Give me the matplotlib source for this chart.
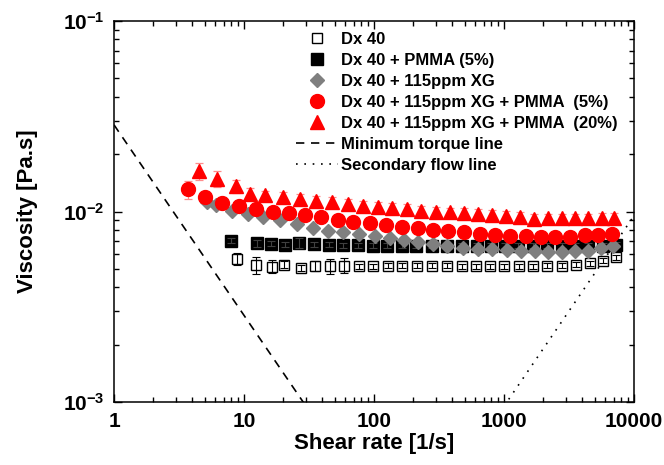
import matplotlib
matplotlib.use("Agg")
import matplotlib.pyplot as plt
from matplotlib.ticker import FixedLocator, FixedFormatter, LogLocator, NullFormatter

plt.rcParams.update(
    {
        "font.family": ["Liberation Sans", "DejaVu Sans"],
        "font.weight": "bold",
        "mathtext.fontset": "custom",
        "mathtext.rm": "Liberation Sans:bold",
        "mathtext.bf": "Liberation Sans:bold",
        "axes.linewidth": 1.1,
    }
)

# Dx 40
dx_rate = [8.88, 12.4, 16.3, 20.4, 27.6, 35.2, 45.9, 59.1, 77.1, 98.8, 127.4, 163.3, 213, 278,
           362, 473, 609, 780, 1005, 1312, 1680, 2152, 2778, 3581, 4589, 5803, 7271]
dx_visc = [0.00564, 0.00524, 0.00514, 0.00526, 0.00506, 0.00520, 0.00515, 0.00520, 0.00515,
           0.00515, 0.00520, 0.00520, 0.00520, 0.00520, 0.00520, 0.00515, 0.00515, 0.00515,
           0.00515, 0.00515, 0.00515, 0.00520, 0.00520, 0.00526, 0.00535, 0.00552, 0.00574]
dx_err = [0.07, 0.10, 0.08, 0.04, 0.04, 0.06, 0.09, 0.09, 0.03, 0.03, 0.03, 0.03, 0.03, 0.03,
          0.03, 0.03, 0.03, 0.03, 0.03, 0.03, 0.03, 0.03, 0.03, 0.03, 0.03, 0.03, 0.03]

# Dx 40 + PMMA (5%)
pmma_rate = [7.9, 12.5, 16.0, 20.6, 26.6, 34.8, 45.1, 58.0, 75.7, 98.8, 126.5, 163.3, 210, 278,
             362, 473, 617, 790, 1018, 1289, 1680, 2152, 2778, 3516, 4449, 5747, 7271]
pmma_visc = [0.00703, 0.00681, 0.00676, 0.00670, 0.00681, 0.00674, 0.00670, 0.00667, 0.00667,
             0.00662, 0.00662, 0.00662, 0.00662, 0.00662, 0.00662, 0.00662, 0.00662, 0.00662,
             0.00662, 0.00662, 0.00662, 0.00662, 0.00662, 0.00662, 0.00662, 0.00662, 0.00670]
pmma_err = [0.03, 0.04, 0.03, 0.03, 0.06, 0.03, 0.03, 0.03, 0.03, 0.03, 0.03, 0.03, 0.03, 0.03,
            0.03, 0.03, 0.03, 0.03, 0.03, 0.03, 0.03, 0.03, 0.03, 0.03, 0.03, 0.03, 0.03]

# Dx 40 + 115ppm XG
xg_rate = [5.19, 6.09, 8.04, 10.8, 14.1, 18.9, 25.4, 33.7, 44.5, 58.0, 77.1, 101.8, 132.8, 171,
           219, 283, 362, 480, 634, 804, 1049, 1343, 1730, 2193, 2778, 3516, 4449, 5543, 6858]
xg_visc = [0.01128, 0.01088, 0.01012, 0.00972, 0.00933, 0.00897, 0.00855, 0.00820, 0.00794,
           0.00778, 0.00763, 0.00748, 0.00727, 0.00710, 0.00690, 0.00676, 0.00662, 0.00646,
           0.00636, 0.00636, 0.00629, 0.00618, 0.00618, 0.00611, 0.00611, 0.00618, 0.00623,
           0.00644, 0.00662]

# Dx 40 + 115ppm XG + PMMA (5%)
xg5_rate = [3.71, 5.01, 6.77, 9.16, 12.4, 16.7, 22.2, 29.5, 39.1, 52.6, 69.4, 93.2, 123.7, 163.4,
            216.8, 286, 373, 492, 653, 853, 1112, 1477, 1916, 2467, 3219, 4201, 5312, 6735]
xg5_visc = [0.01305, 0.01189, 0.01111, 0.01067, 0.01025, 0.01000, 0.00985, 0.00953, 0.00941,
            0.00904, 0.00886, 0.00868, 0.00851, 0.00833, 0.00817, 0.00804, 0.00794, 0.00778,
            0.00763, 0.00754, 0.00748, 0.00741, 0.00738, 0.00738, 0.00738, 0.00757, 0.00757,
            0.00763]
xg5_err = [0.11, 0.05, 0.07, 0.04, 0.04, 0.04, 0.03, 0.03, 0.03, 0.03, 0.03, 0.03, 0.03, 0.03,
           0.03, 0.03, 0.03, 0.03, 0.03, 0.03, 0.03, 0.03, 0.03, 0.03, 0.03, 0.03, 0.03, 0.03]

# Dx 40 + 115ppm XG + PMMA (20%)
xg20_rate = [4.5, 6.2, 8.7, 11.1, 14.5, 20, 27, 35.8, 47.3, 62.8, 82.8, 106.7, 136.8, 178, 230,
             300, 385, 492, 631, 809, 1035, 1327, 1702, 2178, 2793, 3516, 4426, 5675, 7015]
xg20_visc = [0.01625, 0.01490, 0.01360, 0.01240, 0.01215, 0.01190, 0.01166, 0.01142, 0.01119,
             0.01097, 0.01075, 0.01062, 0.01045, 0.01032, 0.01011, 0.00999, 0.00990, 0.00981,
             0.00972, 0.00963, 0.00952, 0.00940, 0.00913, 0.00920, 0.00920, 0.00920, 0.00920,
             0.00922, 0.00922]
xg20_err = [0.10, 0.10, 0.08, 0.07, 0.06, 0.06, 0.06, 0.06, 0.06, 0.06, 0.06, 0.06, 0.06, 0.06,
            0.06, 0.06, 0.06, 0.06, 0.06, 0.06, 0.06, 0.06, 0.06, 0.06, 0.06, 0.06, 0.06, 0.06,
            0.06]

# limit lines
torque_rate = [1, 30]
torque_visc = [0.0285, 0.00095]
secflow_rate = [1000, 10000]
secflow_visc = [0.00095, 0.0095]

y_ticks = [1e-3, 1e-2, 1e-1]
y_ticklabels = [r"$\mathbf{10^{-3}}$", r"$\mathbf{10^{-2}}$", r"$\mathbf{10^{-1}}$"]
x_ticks = [1, 10, 100, 1000, 10000]
x_ticklabels = ["1", "10", "100", "1000", "10000"]


def rel_err(vals, frac):
    return [v * f for v, f in zip(vals, frac)]


fig = plt.figure(figsize=(6.64, 4.65), dpi=100)
ax = fig.add_axes([0.1717, 0.1355, 0.7831, 0.8193])
ax.set_xscale("log")
ax.set_yscale("log")

ax.plot(dx_rate, dx_visc, "s", ms=7.5, mfc="white", mec="black", mew=1.0,
        label="Dx 40", zorder=3)
ax.errorbar(dx_rate, dx_visc, yerr=rel_err(dx_visc, dx_err), fmt="none", ecolor="black",
            elinewidth=0.8, capsize=2.8, capthick=0.8, zorder=3.1)

ax.plot(pmma_rate, pmma_visc, "s", ms=8, mfc="black", mec="black",
        label="Dx 40 + PMMA (5%)", zorder=4)
ax.errorbar(pmma_rate, pmma_visc, yerr=rel_err(pmma_visc, pmma_err), fmt="none",
            ecolor="#404040", elinewidth=0.8, capsize=2.8, capthick=0.8, zorder=4.1)

ax.plot(xg_rate, xg_visc, "D", ms=7.5, mfc="#7f7f7f", mec="#7f7f7f",
        label="Dx 40 + 115ppm XG", zorder=5)

ax.plot(xg5_rate, xg5_visc, "o", ms=10, mfc="red", mec="red",
        label="Dx 40 + 115ppm XG + PMMA  (5%)", zorder=6)
ax.errorbar(xg5_rate, xg5_visc, yerr=rel_err(xg5_visc, xg5_err), fmt="none",
            ecolor="#ff8c8c", elinewidth=0.9, capsize=3, capthick=0.9, zorder=5.9)

ax.errorbar(xg20_rate, xg20_visc, yerr=rel_err(xg20_visc, xg20_err), fmt="none",
            ecolor="#ff8c8c", elinewidth=0.9, capsize=3, capthick=0.9, zorder=6.9)
ax.plot(xg20_rate, xg20_visc, "^", ms=10.5, mfc="red", mec="red",
        label="Dx 40 + 115ppm XG + PMMA  (20%)", zorder=7)

ax.plot(torque_rate, torque_visc, color="black", lw=1.2, dashes=(5, 4),
        label="Minimum torque line", zorder=2)
ax.plot(secflow_rate, secflow_visc, color="black", lw=1.2, dashes=(1, 4),
        label="Secondary flow line", zorder=2)

ax.set_xlim(1, 10000)
ax.set_ylim(1e-3, 1e-1)

ax.xaxis.set_major_locator(FixedLocator(x_ticks))
ax.xaxis.set_major_formatter(FixedFormatter(x_ticklabels))
ax.yaxis.set_major_locator(FixedLocator(y_ticks))
ax.yaxis.set_major_formatter(FixedFormatter(y_ticklabels))
for axis in (ax.xaxis, ax.yaxis):
    axis.set_minor_locator(LogLocator(base=10, subs=range(2, 10)))
    axis.set_minor_formatter(NullFormatter())

ax.tick_params(which="both", direction="in", top=True, right=True, width=1.0)
ax.tick_params(which="major", length=6, labelsize=15, pad=7)
ax.tick_params(which="minor", length=3.5)

ax.set_xlabel("Shear rate [1/s]", fontsize=16, fontweight="bold", labelpad=2)
ax.set_ylabel("Viscosity [Pa.s]", fontsize=16, fontweight="bold", labelpad=18)

ax.legend(loc="upper left", bbox_to_anchor=(0.33, 1.0), frameon=False, fontsize=12,
          handlelength=2.5, handletextpad=0.2, labelspacing=0.36, borderaxespad=0.25,
          numpoints=1)

fig.savefig("out.png", dpi=100)
